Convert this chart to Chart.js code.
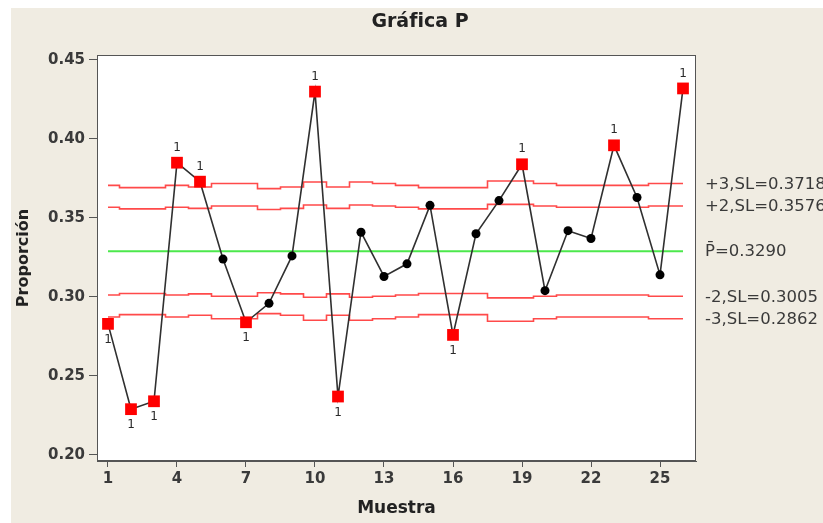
<!DOCTYPE html>
<html lang="es">
<head>
<meta charset="utf-8">
<title>Gráfica P</title>
<script src="https://cdn.jsdelivr.net/npm/chart.js@4.4.1/dist/chart.umd.min.js"></script>
<style>
  html, body { margin: 0; padding: 0; background: #ffffff; }
  #marco { position: relative; width: 823px; height: 523px; }
  canvas { display: block; }
</style>
</head>
<body>
<div id="marco"><canvas id="grafica" width="823" height="523"></canvas></div>
<script>
// Número de muestra
const muestras = [1, 2, 3, 4, 5, 6, 7, 8, 9, 10, 11, 12, 13, 14, 15, 16, 17, 18, 19, 20, 21, 22, 23, 24, 25, 26];
// Proporción de defectuosos en cada muestra
const proporciones = [0.283, 0.229, 0.234, 0.385, 0.373, 0.324, 0.284, 0.296, 0.326, 0.430,
                      0.237, 0.341, 0.313, 0.321, 0.358, 0.276, 0.340, 0.361, 0.384, 0.304,
                      0.342, 0.337, 0.396, 0.363, 0.314, 0.432];
// Error estándar de cada muestra (varía con el tamaño de muestra)
const errorEstandar = [0.01388, 0.01339, 0.01339, 0.01388, 0.01352, 0.01427, 0.01427, 0.01318, 0.01352, 0.01458,
                       0.01352, 0.01458, 0.01427, 0.01388, 0.01339, 0.01339, 0.01339, 0.01479, 0.01479, 0.01427,
                       0.01388, 0.01388, 0.01388, 0.01388, 0.01427, 0.01427];
// Proporción media (línea central)
const pBarra = 0.32902;
// Marcas de los ejes
const ticksX = [1, 4, 7, 10, 13, 16, 19, 22, 25];
const ticksY = [0.20, 0.25, 0.30, 0.35, 0.40, 0.45];
// Textos
const titulo = 'Gráfica P';
const tituloX = 'Muestra';
const tituloY = 'Proporción';

const FUENTE = "'DejaVu Sans', 'Liberation Sans', sans-serif";
const GRIS = '#3a3a3a';

// Límites escalonados a k errores estándar de la línea central
const limite = k => muestras.map((m, i) => ({ x: m, y: pBarra + k * errorEstandar[i] }));
const lineaCentral = muestras.map(m => ({ x: m, y: pBarra }));

// Prueba 1: un punto fuera de los límites de 3 sigma
const fuera = proporciones.map((p, i) =>
  p > pBarra + 3 * errorEstandar[i] || p < pBarra - 3 * errorEstandar[i]);

const puntos = muestras.map((m, i) => ({ x: m, y: proporciones[i] }));

const estiloLimite = (datos) => ({
  data: datos,
  borderColor: '#ff4a4a',
  borderWidth: 1.6,
  pointRadius: 0,
  stepped: 'middle',
  fill: false,
  order: 2
});

// Fondo beige con margen blanco
const fondo = {
  id: 'fondo',
  beforeDraw(chart) {
    const { ctx, width, height } = chart;
    ctx.save();
    ctx.fillStyle = '#ffffff';
    ctx.fillRect(0, 0, width, height);
    ctx.fillStyle = '#f0ece2';
    ctx.fillRect(11, 8, width - 11, height - 8);
    const a = chart.chartArea;
    ctx.fillStyle = '#ffffff';
    ctx.fillRect(a.left, a.top, a.right - a.left, a.bottom - a.top);
    ctx.restore();
  }
};

// Marco del área de trazado, título, etiquetas de límites y marcas de prueba
const anotaciones = {
  id: 'anotaciones',
  afterDraw(chart) {
    const { ctx, chartArea: a, scales } = chart;
    const y = scales.y;
    ctx.save();
    ctx.strokeStyle = '#555555';
    ctx.lineWidth = 1;
    ctx.strokeRect(a.left + 0.5, a.top + 0.5, a.right - a.left - 1, a.bottom - a.top - 1);

    ctx.fillStyle = '#222222';
    ctx.font = "bold 19px " + FUENTE;
    ctx.textAlign = 'center';
    ctx.textBaseline = 'middle';
    ctx.fillText(titulo, 420, 22);

    // Etiquetas de los límites de la última muestra
    const n = muestras.length - 1;
    const s = errorEstandar[n];
    const etiquetas = [
      ['+3,SL=', pBarra + 3 * s],
      ['+2,SL=', pBarra + 2 * s],
      ['P\u0304=', pBarra],
      ['-2,SL=', pBarra - 2 * s],
      ['-3,SL=', pBarra - 3 * s]
    ];
    ctx.font = "16.5px " + FUENTE;
    ctx.fillStyle = GRIS;
    ctx.textAlign = 'left';
    etiquetas.forEach(([t, v]) => {
      ctx.fillText(t + v.toFixed(4), a.right + 9, y.getPixelForValue(v) + 1);
    });

    // "1" junto a cada punto fuera de control
    const meta = chart.getDatasetMeta(0);
    ctx.font = "12px " + FUENTE;
    ctx.fillStyle = '#2a2a2a';
    ctx.textAlign = 'center';
    meta.data.forEach((el, i) => {
      if (!fuera[i]) return;
      const arriba = proporciones[i] > pBarra;
      ctx.fillText('1', el.x, el.y + (arriba ? -15 : 16));
    });
    ctx.restore();
  }
};

new Chart(document.getElementById('grafica'), {
  type: 'line',
  data: {
    datasets: [
      {
        data: puntos,
        borderColor: '#303030',
        borderWidth: 1.6,
        pointStyle: fuera.map(f => f ? 'rect' : 'circle'),
        pointRadius: fuera.map(f => f ? 8.3 : 4.5),
        pointBackgroundColor: fuera.map(f => f ? '#ff0000' : '#000000'),
        pointBorderColor: fuera.map(f => f ? '#ff0000' : '#000000'),
        pointBorderWidth: 0,
        fill: false,
        order: 0
      },
      estiloLimite(limite(3)),
      estiloLimite(limite(2)),
      estiloLimite(limite(-2)),
      estiloLimite(limite(-3)),
      {
        data: lineaCentral,
        borderColor: '#4ce84c',
        borderWidth: 2,
        pointRadius: 0,
        fill: false,
        order: 1
      }
    ]
  },
  options: {
    responsive: false,
    animation: false,
    events: [],
    layout: { padding: { top: 55, right: 127, left: 0, bottom: 0 } },
    plugins: {
      legend: { display: false },
      title: { display: false },
      tooltip: { enabled: false }
    },
    scales: {
      x: {
        type: 'linear',
        min: 0.522,
        max: 26.565,
        afterBuildTicks: s => { s.ticks = ticksX.map(v => ({ value: v })); },
        afterFit: s => { s.height = 62; },
        ticks: {
          callback: v => String(v),
          color: GRIS,
          font: { family: FUENTE, size: 15, weight: 'bold' },
          padding: 3,
          maxRotation: 0
        },
        grid: { drawOnChartArea: false, drawTicks: true, tickLength: 6, color: '#555555' },
        border: { display: true, color: '#555555', width: 1 },
        title: {
          display: true,
          text: tituloX,
          color: '#222222',
          font: { family: FUENTE, size: 17, weight: 'bold' },
          padding: { top: 0, bottom: 4 }
        }
      },
      y: {
        type: 'linear',
        min: 0.1962,
        max: 0.45316,
        afterBuildTicks: s => { s.ticks = ticksY.map(v => ({ value: v })); },
        afterFit: s => { s.width = 97; },
        ticks: {
          callback: v => v.toFixed(2),
          color: GRIS,
          font: { family: FUENTE, size: 15, weight: 'bold' },
          padding: 4
        },
        grid: { drawOnChartArea: false, drawTicks: true, tickLength: 8, color: '#555555' },
        border: { display: true, color: '#555555', width: 1 },
        title: {
          display: true,
          text: tituloY,
          color: '#222222',
          font: { family: FUENTE, size: 16, weight: 'bold' },
          padding: { top: 14, bottom: 0 }
        }
      }
    }
  },
  plugins: [fondo, anotaciones]
});
</script>
</body>
</html>
